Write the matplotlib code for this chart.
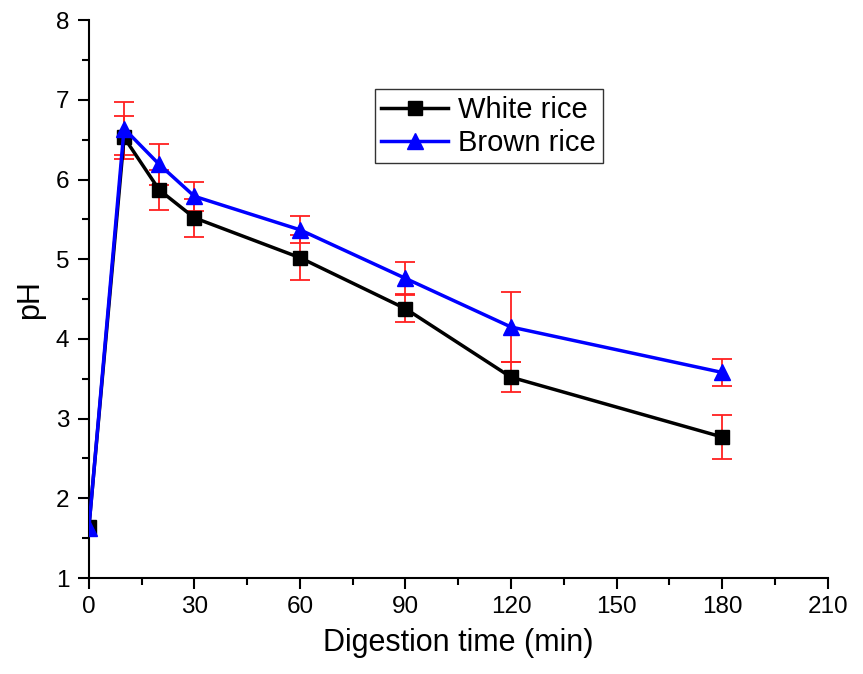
import matplotlib
matplotlib.use("Agg")
import matplotlib.pyplot as plt
from matplotlib.ticker import MultipleLocator

time = [0, 10, 20, 30, 60, 90, 120, 180]
white_ph = [1.64, 6.53, 5.87, 5.52, 5.02, 4.38, 3.52, 2.77]
white_err = [0.0, 0.27, 0.25, 0.24, 0.28, 0.17, 0.19, 0.28]
brown_ph = [1.63, 6.64, 6.19, 5.79, 5.37, 4.76, 4.15, 3.58]
brown_err = [0.0, 0.33, 0.26, 0.18, 0.17, 0.20, 0.44, 0.17]
series_labels = ["White rice", "Brown rice"]
x_ticks = [0, 30, 60, 90, 120, 150, 180, 210]
y_ticks = [1, 2, 3, 4, 5, 6, 7, 8]

plt.rcParams['font.family'] = ['Liberation Sans', 'DejaVu Sans']

fig = plt.figure(figsize=(8.63, 6.74), dpi=100)
ax = fig.add_axes([0.103, 0.1424, 0.856, 0.8276])

for ph, err in ((white_ph, white_err), (brown_ph, brown_err)):
    idx = [i for i, e in enumerate(err) if e > 0]
    ax.errorbar([time[i] for i in idx], [ph[i] for i in idx],
                yerr=[err[i] for i in idx], fmt='none', ecolor='#ff2020',
                elinewidth=1.3, capsize=7, capthick=1.3, zorder=2)

ax.plot(time, white_ph, color='black', lw=2.5, marker='s', ms=10,
        label=series_labels[0], zorder=3)
ax.plot(time, brown_ph, color='#0000ff', lw=2.5, marker='^', ms=12,
        label=series_labels[1], zorder=4)

ax.set_xlim(0, 210)
ax.set_ylim(1, 8)
ax.set_xticks(x_ticks)
ax.set_yticks(y_ticks)
ax.xaxis.set_minor_locator(MultipleLocator(15))
ax.yaxis.set_minor_locator(MultipleLocator(0.5))
ax.tick_params(which='major', direction='out', length=8, width=1.5, labelsize=17.5)
ax.tick_params(which='minor', direction='out', length=5, width=1.5)
ax.tick_params(axis='y', pad=6)
ax.tick_params(axis='x', pad=5)
ax.spines['top'].set_visible(False)
ax.spines['right'].set_visible(False)
ax.spines['left'].set_linewidth(1.5)
ax.spines['bottom'].set_linewidth(1.5)

ax.set_xlabel("Digestion time (min)", fontsize=22, labelpad=7)
ax.set_ylabel("pH", fontsize=22, labelpad=8)

leg = ax.legend(loc='upper left', bbox_to_anchor=(0.387, 0.876), fontsize=21,
                frameon=True, fancybox=False, edgecolor='black',
                handlelength=2.3, borderpad=0.22, labelspacing=0.18,
                handletextpad=0.35, borderaxespad=0)
leg.get_frame().set_linewidth(1.0)

fig.savefig("out.png", dpi=100)
